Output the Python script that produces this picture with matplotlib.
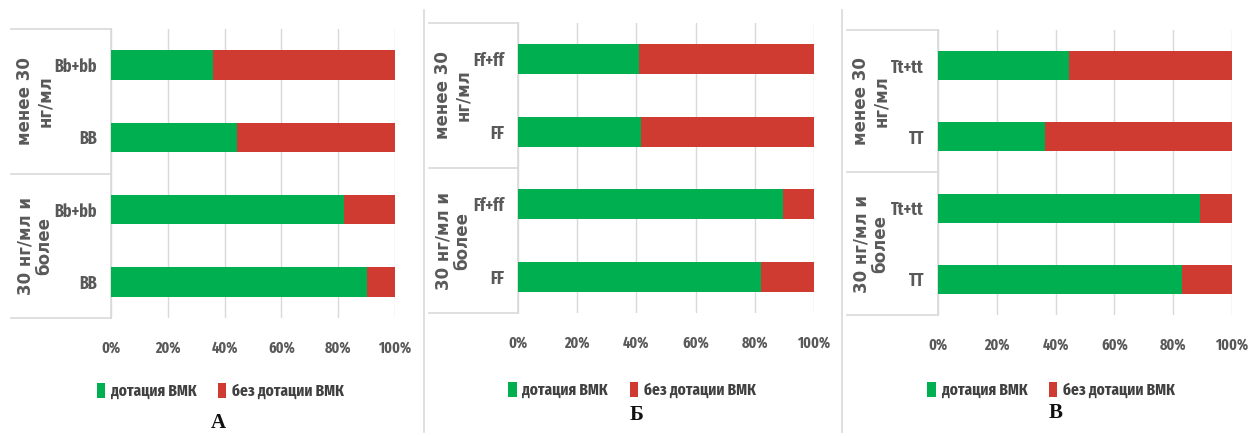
import matplotlib
matplotlib.use('Agg')
import matplotlib.pyplot as plt

# Data (percent), categories listed top to bottom
groups = ['менее 30\nнг/мл', '30 нг/мл и\nболее']
series_names = ['дотация ВМК', 'без дотации ВМК']

genes_A = ['Bb+bb', 'BB', 'Bb+bb', 'BB']
vmk_A = [36, 44.5, 82, 90]
no_vmk_A = [64, 55.5, 18, 10]

genes_B = ['Ff+ff', 'FF', 'Ff+ff', 'FF']
vmk_B = [41, 41.5, 89.5, 82]
no_vmk_B = [59, 58.5, 10.5, 18]

genes_C = ['Tt+tt', 'TT', 'Tt+tt', 'TT']
vmk_C = [44.5, 36.5, 89, 83]
no_vmk_C = [55.5, 63.5, 11, 17]

panel_letters = ['А', 'Б', 'В']
x_ticks = [0, 20, 40, 60, 80, 100]

GREEN = '#00B050'
RED = '#CF3B31'
GRID = '#D9D9D9'
TEXT = '#595959'

W, H = 1249, 436
fig = plt.figure(figsize=(W / 100, H / 100), dpi=100)
narrow = ['Fira Sans Extra Condensed', 'Fira Sans Condensed', 'DejaVu Sans']


def px_axes(left, right, top, bottom):
    return fig.add_axes([left / W, 1 - bottom / H, (right - left) / W, (bottom - top) / H])


# axes boxes in pixels: left, right, top, bottom, left edge of the label box
panels = [
    (111, 395, 29, 318, 11, genes_A, vmk_A, no_vmk_A),
    (518, 814, 23, 313, 429, genes_B, vmk_B, no_vmk_B),
    (938, 1232, 30, 315, 847, genes_C, vmk_C, no_vmk_C),
]
letter_pos = [(218, 423), (637, 415), (1056, 413)]
legend_y = [-0.253, -0.265, -0.263]

for i, (l, r, t, b, box_l, genes, vmk, no_vmk) in enumerate(panels):
    ax = px_axes(l, r, t, b)
    y = list(range(len(genes)))
    ax.barh(y, vmk, height=0.41, color=GREEN, label=series_names[0], zorder=3)
    ax.barh(y, no_vmk, left=vmk, height=0.41, color=RED, label=series_names[1], zorder=3)
    ax.set_xlim(0, 100)
    ax.set_ylim(3.5, -0.5)
    ax.set_xticks(x_ticks)
    ax.set_xticklabels([f'{v}%' for v in x_ticks], family=narrow, fontsize=11,
                       fontweight='bold', color=TEXT)
    ax.set_yticks(y)
    ax.set_yticklabels(genes, family=narrow, fontsize=12.5, fontweight='bold', color=TEXT)
    ax.tick_params(axis='x', length=0, pad=16)
    ax.tick_params(axis='y', length=0, pad=10)
    ax.grid(axis='x', color=GRID, linewidth=1, zorder=0)
    for s in ax.spines.values():
        s.set_visible(False)

    # category box on the left
    bx = (box_l - l) / (r - l)
    for yy in (0, 0.5, 1):
        ax.plot([bx, 0], [yy, yy], color=GRID, lw=1.2, transform=ax.transAxes, clip_on=False)
    ax.plot([0, 0], [0, 1], color=GRID, lw=1.2, transform=ax.transAxes, clip_on=False)
    gx = bx + 24 / (r - l)
    ax.text(gx, 0.75, groups[0], rotation=90, ha='center', va='center', fontsize=12,
            fontweight='bold', color=TEXT, transform=ax.transAxes, linespacing=1.1)
    ax.text(gx, 0.25, groups[1], rotation=90, ha='center', va='center', fontsize=12,
            fontweight='bold', color=TEXT, transform=ax.transAxes, linespacing=1.1)

    leg = ax.legend(loc='center', bbox_to_anchor=(0.385, legend_y[i]), ncol=2, frameon=False,
                    handlelength=0.5, handleheight=1.0, handletextpad=0.35, columnspacing=1.3,
                    prop={'family': narrow, 'size': 12, 'weight': 'bold'})
    for txt in leg.get_texts():
        txt.set_color('#404040')

    lx, ly = letter_pos[i]
    fig.text(lx / W, 1 - ly / H, panel_letters[i], ha='center', va='center',
             family='Liberation Serif', fontweight='bold', fontsize=15, color='#111111')

# thin separators between panels
for sx in (424, 842):
    fig.add_artist(plt.Line2D([sx / W, sx / W], [1 - 10 / H, 1 - 432 / H], color=GRID, lw=1.2))

fig.savefig('out.png', dpi=100)
